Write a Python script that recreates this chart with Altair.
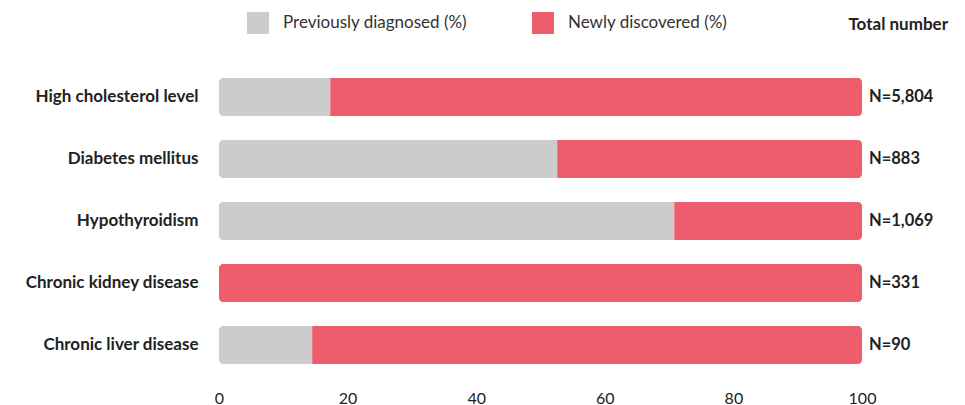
import altair as alt
import pandas as pd

conditions = ["High cholesterol level", "Diabetes mellitus", "Hypothyroidism",
              "Chronic kidney disease", "Chronic liver disease"]
previously = [17.3, 52.6, 70.8, 0.0, 14.5]
totals = ["N=5,804", "N=883", "N=1,069", "N=331", "N=90"]
series = ["Previously diagnosed (%)", "Newly discovered (%)"]
colors = ["#cccccc", "#ee5d6c"]
x_ticks = [0, 20, 40, 60, 80, 100]

rows = []
for c, p in zip(conditions, previously):
    rows.append({"condition": c, "series": series[0], "value": p, "ord": 0})
    rows.append({"condition": c, "series": series[1], "value": round(100 - p, 1), "ord": 1})
df = pd.DataFrame(rows)
tot_df = pd.DataFrame({"condition": conditions, "label": totals, "pos": [100] * len(conditions)})

FONT = "Lato"

y_enc = alt.Y("condition:N", sort=conditions,
              scale=alt.Scale(paddingInner=24 / 62, paddingOuter=12 / 62),
              axis=alt.Axis(title=None, domain=False, ticks=False, labelPadding=21,
                            labelFontSize=17, labelFontWeight="bold", labelColor="#222222",
                            labelFont=FONT, labelLimit=300))

bars = alt.Chart(df).mark_bar(cornerRadius=4).encode(
    x=alt.X("value:Q", stack="zero",
            scale=alt.Scale(domain=[0, 100], nice=False),
            axis=alt.Axis(title=None, values=x_ticks, domain=False, ticks=False, grid=False,
                          labelFontSize=16, labelColor="#222222", labelPadding=14,
                          labelFlush=False, labelFont=FONT)),
    y=y_enc,
    color=alt.Color("series:N", sort=series,
                    scale=alt.Scale(domain=series, range=colors),
                    legend=alt.Legend(title=None, orient="none", legendX=28, legendY=-54,
                                      direction="horizontal", symbolType="square",
                                      symbolSize=484, symbolStrokeWidth=0,
                                      labelFontSize=17, labelColor="#333333",
                                      labelFont=FONT, labelOffset=14, labelLimit=400,
                                      columnPadding=64, padding=0)),
    order=alt.Order("ord:Q"),
)

texts = alt.Chart(tot_df).mark_text(align="left", baseline="middle", dx=7, fontSize=16.5,
                                    fontWeight="bold", color="#222222", font=FONT).encode(
    x=alt.X("pos:Q"),
    y=alt.Y("condition:N", sort=conditions),
    text="label:N",
)

chart = alt.layer(bars, texts).properties(
    width=643, height=310,
    padding={"left": 219, "top": 66, "right": 103, "bottom": 29},
    autosize=alt.AutoSizeParams(type="none"),
    title=alt.TitleParams("Total number", anchor="end", frame="group", dx=86, offset=0,
                          baseline="bottom", dy=39,
                          fontSize=17, fontWeight="bold", color="#222222", font=FONT),
).configure_view(stroke=None).configure_axis(grid=False)

chart.save("out.html", embed_options={"renderer": "svg", "actions": False})
